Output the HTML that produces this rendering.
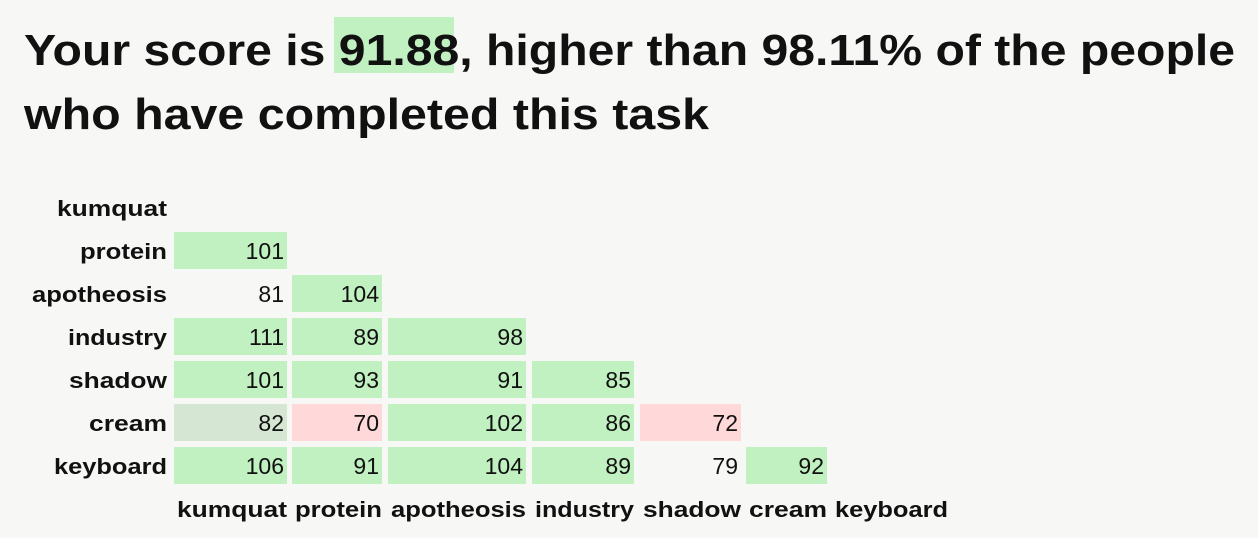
<!DOCTYPE html>
<html><head><meta charset="utf-8"><style>
html,body{margin:0;padding:0;background:#f7f7f5;}
svg{display:block;font-family:"Liberation Sans",Arial,sans-serif;}
</style></head><body>
<svg width="1258" height="538" viewBox="0 0 1258 538">
<rect x="0" y="0" width="1258" height="538" fill="#f7f7f5"/>
<rect x="334" y="17" width="120" height="56" fill="#c1f0c1"/>
<text x="24" y="65" font-size="44" font-weight="bold" fill="#111" textLength="1211" lengthAdjust="spacingAndGlyphs">Your score is 91.88, higher than 98.11% of the people</text>
<text x="24" y="129" font-size="44" font-weight="bold" fill="#111" textLength="685" lengthAdjust="spacingAndGlyphs">who have completed this task</text>
<g id="grid"></g>
</svg>
<script>
const labels = ["kumquat","protein","apotheosis","industry","shadow","cream","keyboard"];
const values = [
  [],
  [101],
  [81,104],
  [111,89,98],
  [101,93,91,85],
  [82,70,102,86,72],
  [106,91,104,89,79,92]
];
const colLeft = [174,292,388,532,640,746,832];
const colRight = [287,382,526,634,741,827,948];
const ns = "http://www.w3.org/2000/svg";
const g = document.getElementById("grid");
function rowY(i){return 208+43*i;}
function color(v){
  if(v>=85) return "#c1f0c1";
  if(v>=82) return "#d5e6d3";
  if(v>=78) return "none";
  return "#ffd9d9";
}
labels.forEach((lab,i)=>{
  const w=colRight[i]-colLeft[i]-3;
  const t=document.createElementNS(ns,"text");
  t.setAttribute("x",167-w);t.setAttribute("y",rowY(i)+8);
  t.setAttribute("font-size","22");
  t.setAttribute("font-weight","bold");t.setAttribute("fill","#111");
  t.setAttribute("textLength",w);t.setAttribute("lengthAdjust","spacingAndGlyphs");
  t.textContent=lab;
  
  
  g.appendChild(t);
  const c=document.createElementNS(ns,"text");
  c.setAttribute("x",colLeft[i]+3);c.setAttribute("y",517);
  c.setAttribute("font-size","22");c.setAttribute("font-weight","bold");c.setAttribute("fill","#111");
  c.setAttribute("textLength",w);c.setAttribute("lengthAdjust","spacingAndGlyphs");
  c.textContent=lab;
  
  
  g.appendChild(c);
  values[i].forEach((v,j)=>{
    const r=document.createElementNS(ns,"rect");
    r.setAttribute("x",colLeft[j]);r.setAttribute("y",rowY(i)-19);
    r.setAttribute("width",colRight[j]-colLeft[j]);r.setAttribute("height",37);
    r.setAttribute("fill",color(v));
    
    
    g.appendChild(r);
    const tv=document.createElementNS(ns,"text");
    tv.setAttribute("x",colRight[j]-3);tv.setAttribute("y",rowY(i)+8);
    tv.setAttribute("text-anchor","end");tv.setAttribute("font-size","23");tv.setAttribute("fill","#111");
    tv.textContent=v;
    
    
    g.appendChild(tv);
  });
});
</script>
</body></html>
